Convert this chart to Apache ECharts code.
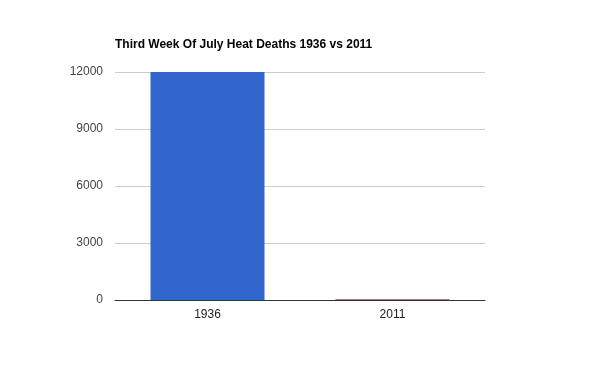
<!DOCTYPE html>
<html><head><meta charset="utf-8">
<script src="https://cdn.jsdelivr.net/npm/echarts@6/dist/echarts.min.js"></script>
<style>html,body{margin:0;padding:0;background:#fff}#c{width:600px;height:371px}</style>
</head><body><div id="c"></div>
<script>
const categories = ['1936', '2011'];
const deaths = [12000, 40];
const yTicks = [0, 3000, 6000, 9000, 12000];

const chart = echarts.init(document.getElementById('c'), null, {renderer: 'canvas'});
chart.setOption({
  animation: false,
  title: {
    text: 'Third Week Of July Heat Deaths 1936 vs 2011',
    left: 115, top: 39, padding: 0,
    textStyle: {fontFamily: 'Liberation Sans, Arial, sans-serif', fontSize: 12, fontWeight: 'bold', color: '#000'}
  },
  grid: {left: 115, right: 115, top: 72, bottom: 71, containLabel: false},
  xAxis: {
    type: 'category', data: categories,
    axisLine: {lineStyle: {color: '#333', width: 1}},
    axisTick: {show: false},
    axisLabel: {color: '#222', fontFamily: 'Liberation Sans, Arial, sans-serif', fontSize: 12, margin: 9}
  },
  yAxis: {
    type: 'value', min: yTicks[0], max: yTicks[yTicks.length - 1], interval: 3000,
    axisLine: {show: false}, axisTick: {show: false},
    splitLine: {lineStyle: {color: '#ccc', width: 1}},
    axisLabel: {color: '#444', fontFamily: 'Liberation Sans, Arial, sans-serif', fontSize: 12, margin: 12,
      formatter: v => String(v)}
  },
  series: [{
    type: 'bar', data: deaths, barWidth: 114,
    itemStyle: {color: '#3366cc'}
  }]
});
</script></body></html>
